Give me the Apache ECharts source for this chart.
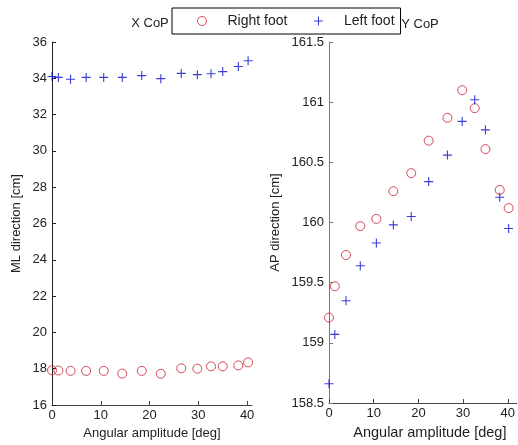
<!DOCTYPE html>
<html>
<head>
<meta charset="utf-8">
<script src="https://cdn.jsdelivr.net/npm/echarts@6/dist/echarts.min.js"></script>
<style>html,body{margin:0;padding:0;background:#fff}#c{width:518px;height:445px}</style>
</head>
<body>
<div id="c"></div>
<script>
// Angular amplitude [deg]
var angles = [0, 1.3, 3.8, 7, 10.6, 14.4, 18.4, 22.3, 26.5, 29.8, 32.6, 35, 38.2, 40.2];
// X CoP (ML direction, cm)
var xRight = [17.91, 17.90, 17.88, 17.88, 17.88, 17.73, 17.88, 17.72, 18.02, 18.00, 18.13, 18.13, 18.18, 18.35];
var xLeft  = [34.10, 34.05, 33.95, 34.05, 34.05, 34.05, 34.15, 33.98, 34.27, 34.20, 34.25, 34.37, 34.65, 34.97];
// Y CoP (AP direction, cm)
var yRight = [159.21, 159.47, 159.73, 159.97, 160.03, 160.26, 160.41, 160.68, 160.87, 161.10, 160.95, 160.61, 160.27, 160.12];
var yLeft  = [158.66, 159.07, 159.35, 159.64, 159.83, 159.98, 160.05, 160.34, 160.56, 160.84, 161.02, 160.77, 160.21, 159.95];
var xTicks = [0, 10, 20, 30, 40];

function pairs(xs, ys) { return xs.map(function (x, i) { return [x, ys[i]]; }); }

var RED = '#cc1f2f', BLUE = '#0a0acc', TXT = '#222';
var PLUS = 'path://M0,5L10,5M5,0L5,10';

function xAx(idx, max, color, nameSize, namePad) {
  return {
    type: 'value', gridIndex: idx, min: 0, max: max,
    name: 'Angular amplitude [deg]', nameLocation: 'middle', nameGap: 22,
    nameTextStyle: { fontFamily: 'Liberation Sans', fontSize: nameSize, color: TXT, padding: namePad },
    axisLine: { show: true, lineStyle: { color: color, width: 1 } },
    axisTick: { show: true, inside: true, length: 4, customValues: xTicks, lineStyle: { color: color } },
    axisLabel: { customValues: xTicks, margin: 4, fontFamily: 'Liberation Sans', fontSize: 13, color: TXT },
    splitLine: { show: false }
  };
}
function yAx(idx, min, max, interval, name, gap, color) {
  return {
    type: 'value', gridIndex: idx, min: min, max: max, interval: interval,
    name: name, nameLocation: 'middle', nameGap: gap,
    nameTextStyle: { fontFamily: 'Liberation Sans', fontSize: 13, color: TXT },
    axisLine: { show: true, lineStyle: { color: color, width: 1 } },
    axisTick: { show: true, inside: true, length: 4, lineStyle: { color: color } },
    axisLabel: { margin: 5, fontFamily: 'Liberation Sans', fontSize: 13, color: TXT },
    splitLine: { show: false }
  };
}

var chart = echarts.init(document.getElementById('c'), null, { renderer: 'canvas' });
chart.setOption({
  backgroundColor: '#fff',
  animation: false,
  grid: [
    { left: 52, top: 42, width: 200, height: 365 },
    { left: 329, top: 42, width: 189, height: 365 }
  ],
  xAxis: [xAx(0, 41, '#444', 13, [0, 0, 0, 0]), xAx(1, 42, '#444', 14.5, [0, 0, 0, 14])],
  yAxis: [
    yAx(0, 16, 36, 2, 'ML direction [cm]', 29, '#222'),
    yAx(1, 158.5, 161.5, 0.5, 'AP direction [cm]', 47, '#777')
  ],
  legend: {
    left: 172, top: 8,
    selectedMode: false,
    orient: 'horizontal',
    padding: [6, 6, 6, 25],
    itemGap: 26,
    itemWidth: 9, itemHeight: 9,
    itemStyle: { borderWidth: 1 },
    borderColor: '#000', borderWidth: 1, borderRadius: 0,
    backgroundColor: '#fff',
    textStyle: { fontFamily: 'Liberation Sans', fontSize: 14, color: TXT, padding: [0, 0, 0, 16] },
    data: ['Right foot', 'Left foot']
  },
  graphic: [
    { type: 'text', x: 150, y: 23, style: { text: 'X CoP', fontFamily: 'Liberation Sans', fontSize: 13, fill: TXT, align: 'center', verticalAlign: 'middle' } },
    { type: 'text', x: 420, y: 24, style: { text: 'Y CoP', fontFamily: 'Liberation Sans', fontSize: 13, fill: TXT, align: 'center', verticalAlign: 'middle' } }
  ],
  series: [
    { name: 'Right foot', type: 'scatter', xAxisIndex: 0, yAxisIndex: 0, data: pairs(angles, xRight),
      symbol: 'circle', symbolSize: 9, itemStyle: { color: 'transparent', borderColor: RED, borderWidth: 1 } },
    { name: 'Left foot', type: 'scatter', xAxisIndex: 0, yAxisIndex: 0, data: pairs(angles, xLeft),
      symbol: PLUS, symbolSize: 9, itemStyle: { color: 'transparent', borderColor: BLUE, borderWidth: 1.1 } },
    { name: 'Right foot', type: 'scatter', xAxisIndex: 1, yAxisIndex: 1, data: pairs(angles, yRight),
      symbol: 'circle', symbolSize: 9, itemStyle: { color: 'transparent', borderColor: RED, borderWidth: 1 } },
    { name: 'Left foot', type: 'scatter', xAxisIndex: 1, yAxisIndex: 1, data: pairs(angles, yLeft),
      symbol: PLUS, symbolSize: 9, itemStyle: { color: 'transparent', borderColor: BLUE, borderWidth: 1.1 } }
  ]
});
</script>
</body>
</html>
